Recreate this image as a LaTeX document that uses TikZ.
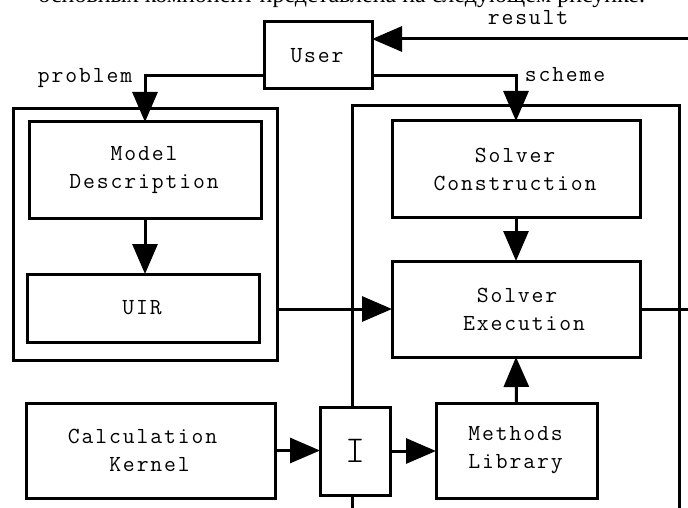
\documentclass[tikz,border=0pt]{standalone}
\usepackage{fontspec}
\newfontfamily\rufont{Liberation Serif}
\usetikzlibrary{arrows.meta}
\newcommand\dmono{\ttfamily\fontsize{23}{28}\selectfont}
\makeatletter
\def\lsp#1{\lsp@#1\@nil}
\def\lsp@#1{\ifx#1\@nil\else#1\kern1.9pt\expandafter\lsp@\fi}
\makeatother
\begin{document}
\begin{tikzpicture}[x=1pt,y=-1pt,
  every node/.style={inner sep=0pt, outer sep=0pt},
  box/.style={draw, line width=3pt, fill=white, align=center, font=\dmono},
  arr/.style={line width=3pt, -{Triangle[length=30pt,width=25pt]}},
  ln/.style={line width=3pt},
  lbl/.style={font=\dmono, anchor=base}]
\useasboundingbox (0,0) rectangle (688,508);
\clip (0,0) rectangle (688,508);

\node[anchor=base east, font=\rufont\fontsize{24}{24}\selectfont] (top) at (645,2.5) {основных компонент представлена на следующем рисунке.};

% containers
\node[draw, line width=3pt, minimum width=264pt, minimum height=251pt] (LC) at (145,234.5) {};
\coordinate (RCbl) at (352,540);
\coordinate (RCtl) at (352,106);
\coordinate (RCtr) at (679,106);
\coordinate (RCbr) at (679,540);
\draw[ln] (RCbl) -- (RCtl) -- (RCtr) -- (RCbr);

% boxes
\node[box, minimum width=108pt, minimum height=67pt] (User) at (318,55.5) {\lsp{User}};
\node[box, minimum width=232pt, minimum height=96pt] (MD) at (145,170) {\lsp{Model}\\\lsp{Description}};
\node[box, minimum width=232pt, minimum height=68pt] (UIR) at (143,308) {\lsp{UIR}};
\node[box, minimum width=248pt, minimum height=96pt] (SC) at (516,169) {\lsp{Solver}\\\lsp{Construction}};
\node[box, minimum width=248pt, minimum height=96pt] (SE) at (516,309) {\hspace*{18pt}\lsp{Solver}\hspace*{14pt}\\\hspace*{18pt}\lsp{Execution}};
\node[box, minimum width=249pt, minimum height=95pt] (CK) at (150.5,450.5) {\lsp{Calculation}\hspace*{14pt}\\\lsp{Kernel}};
\node[box, minimum width=70pt, minimum height=88pt, font=\ttfamily\fontseries{l}\fontsize{38}{38}\selectfont] (I) at (355,451) {I};
\node[box, minimum width=161pt, minimum height=95pt] (ML) at (516.5,450.5) {\lsp{Methods}\\\lsp{Library}};

% connectors
\coordinate (resin) at (700,39);
\coordinate (seout) at (700,309);
\draw[arr] (resin) -- (User.east |- resin);
\draw[arr] ([yshift=-20.5pt]User.west) -| (MD.north);
\draw[arr] ([yshift=-20.5pt]User.east) -| (SC.north);
\draw[arr] (MD.south) -- (MD.south |- UIR.north);
\draw[arr] (LC.east |- SE.west) -- (SE.west);
\draw[arr] (SC.south) -- (SE.north);
\draw[ln] (SE.east) -- (seout);
\draw[arr] (CK.east) -- (CK.east -| I.west);
\draw[arr] (I.east) -- (I.east -| ML.west);
\draw[arr] (ML.north) -- (SE.south);

% labels
\node[lbl] (lres) at (529,25) {\lsp{result}};
\node[lbl] (lprob) at (86,83) {\lsp{problem}};
\node[lbl] (lsch) at (566,82) {\lsp{scheme}};
\end{tikzpicture}
\end{document}
